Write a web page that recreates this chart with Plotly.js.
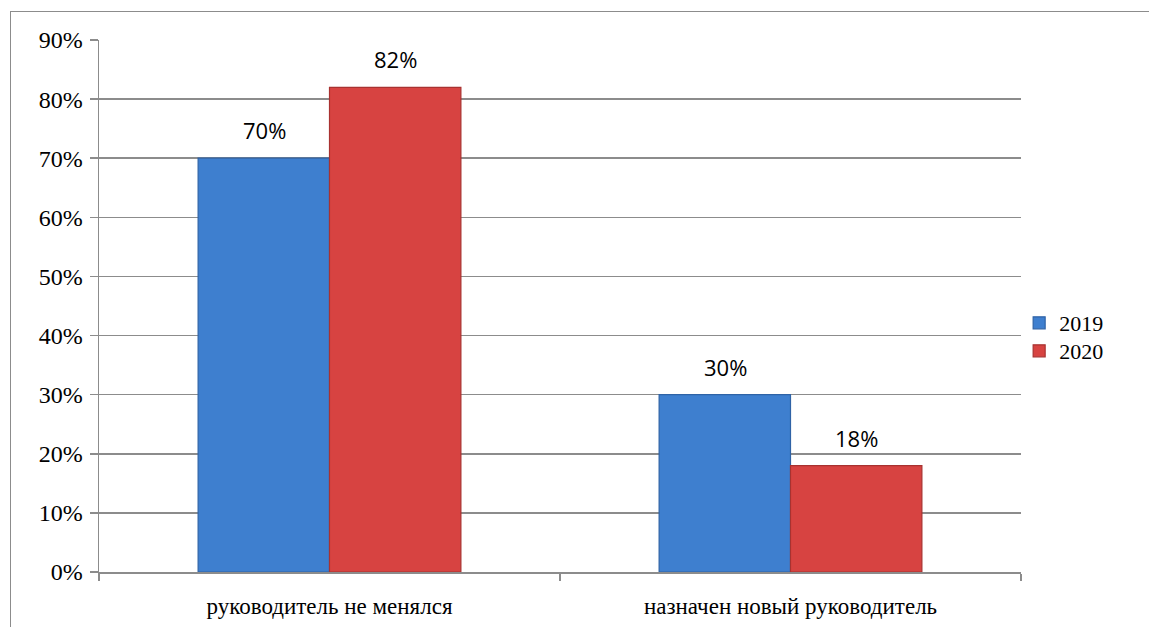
<!DOCTYPE html>
<html>
<head>
<meta charset="utf-8">
<script src="https://cdn.plot.ly/plotly-3.0.1.min.js"></script>
<style>
html,body{margin:0;padding:0;background:#fff;}
#chart{width:1149px;height:627px;position:absolute;left:0;top:0;}
#frame{position:absolute;left:10px;top:11px;width:1150px;height:630px;border:1.5px solid #8c8c8c;box-sizing:border-box;pointer-events:none;}
</style>
</head>
<body>
<div id="chart"></div>
<div id="frame"></div>
<script>
const categories = ["руководитель не менялся", "назначен новый руководитель"];
const values2019 = [0.70, 0.30];
const values2020 = [0.82, 0.18];
const seriesNames = ["2019", "2020"];
const tickVals = [0, 0.1, 0.2, 0.3, 0.4, 0.5, 0.6, 0.7, 0.8, 0.9];
const tickText = ["0%", "10%", "20%", "30%", "40%", "50%", "60%", "70%", "80%", "90%"];

const serif = "Liberation Serif";
const labelFont = {family: "Open Sans", size: 22, color: "#000"};

function pct(v){ return Math.round(v*100) + "%"; }

const traces = [
  {
    type: "bar", name: seriesNames[0], x: categories, y: values2019, legend: "legend",
    marker: {color: "#3e7fcf", line: {color: "#2f63a6", width: 1.2}},
    hoverinfo: "none"
  },
  {
    type: "bar", name: seriesNames[1], x: categories, y: values2020, legend: "legend2",
    marker: {color: "#d74341", line: {color: "#a83230", width: 1.2}},
    hoverinfo: "none"
  }
];

// data labels, positioned from the data through the axes
const annotations = [];
[values2019, values2020].forEach((vals, s) => {
  vals.forEach((v, i) => {
    annotations.push({
      x: categories[i], y: v, xref: "x", yref: "y",
      text: pct(v), showarrow: false, font: labelFont,
      xshift: s === 0 ? -65.5 : 65.5, yshift: 28
    });
  });
});

const legendFont = {family: serif, size: 22, color: "#000"};

const layout = {
  width: 1149, height: 627,
  margin: {l: 99, r: 128, t: 40, b: 55, pad: 0},
  paper_bgcolor: "#fff", plot_bgcolor: "#fff",
  font: {family: serif},
  barmode: "group", bargap: 0.43, bargroupgap: 0,
  showlegend: true,
  annotations: annotations,
  legend: {
    x: 0.998, y: 0.468, xanchor: "left", yanchor: "middle",
    font: legendFont, itemwidth: 30, bgcolor: "rgba(0,0,0,0)"
  },
  legend2: {
    x: 0.998, y: 0.4154, xanchor: "left", yanchor: "middle",
    font: legendFont, itemwidth: 30, bgcolor: "rgba(0,0,0,0)"
  },
  xaxis: {
    type: "category",
    tickson: "boundaries", ticks: "outside", ticklen: 7, tickcolor: "#8c8c8c", tickwidth: 1.5,
    showline: true, linecolor: "#8c8c8c", linewidth: 1.5,
    showgrid: false, zeroline: false,
    tickfont: {family: serif, size: 23, color: "#000"},
    ticklabelstandoff: 13,
    fixedrange: true
  },
  yaxis: {
    range: [0, 0.9],
    tickvals: tickVals, ticktext: tickText,
    ticks: "outside", ticklen: 8, tickcolor: "#8c8c8c", tickwidth: 1.5,
    showline: true, linecolor: "#8c8c8c", linewidth: 1.5,
    showgrid: true, gridcolor: "#8c8c8c", gridwidth: 1.5,
    zeroline: false,
    tickfont: {family: serif, size: 24, color: "#000"},
    ticklabelstandoff: 2,
    fixedrange: true
  }
};

Plotly.newPlot("chart", traces, layout, {displayModeBar: false, staticPlot: true});
</script>
</body>
</html>
